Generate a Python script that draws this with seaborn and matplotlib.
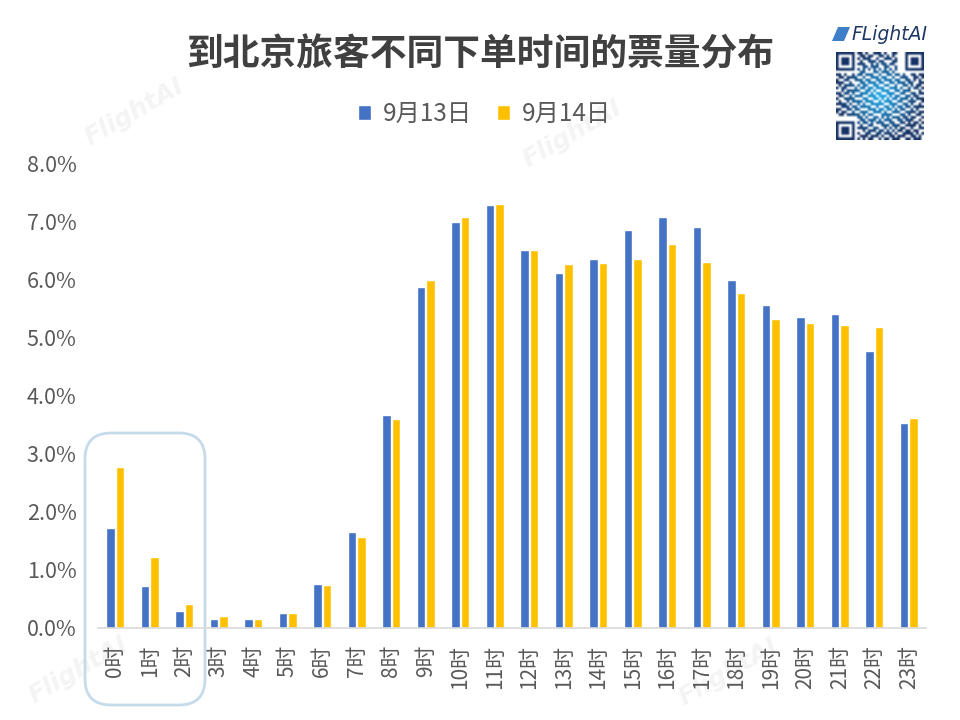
import numpy as np
import pandas as pd
import seaborn as sns
import matplotlib
matplotlib.use("Agg")
import matplotlib.pyplot as plt
from matplotlib.patches import FancyBboxPatch, Polygon

hours = ["0时","1时","2时","3时","4时","5时","6时","7时","8时","9时","10时","11时","12时","13时","14时","15时","16时","17时","18时","19时","20时","21时","22时","23时"]
sep13 = [1.72,0.73,0.29,0.16,0.16,0.26,0.76,1.65,3.66,5.87,6.99,7.28,6.50,6.11,6.35,6.85,7.07,6.90,5.99,5.56,5.35,5.40,4.77,3.52]
sep14 = [2.77,1.22,0.42,0.21,0.15,0.26,0.74,1.57,3.60,5.98,7.07,7.30,6.50,6.27,6.28,6.34,6.61,6.30,5.77,5.32,5.25,5.22,5.18,3.62]
series_names = ["9月13日","9月14日"]
title = "到北京旅客不同下单时间的票量分布"
colors = ["#4472C4","#FFC000"]
qr_rows = [
"000000001101001110100110000000000",
"000000000110110011010100000000000",
"000000001011100100111010000000000",
"000000000100111011000110000000000",
"000000001110010101101100000000000",
"000000000011011100110010000000000",
"000000001010101010101010000000000",
"000000000110001101110100000000000",
"110100101101110010011011010011011",
"011011110010011101100100111001101",
"100110011101100110111011001101010",
"111001000110111011001101110110011",
"010111101011001100110010011010110",
"101100010110110111001110100101101",
"001011111001101001110011011100010",
"110110100111010110011100110011011",
"011001011100111011101011001101100",
"100111100011001101010110111010111",
"010010111101110010111001100111001",
"111101001010011111001110011010010",
"001110110111100100110101101101111",
"110011011000111011011010110010100",
"101100100111001110100111001111011",
"011011111010110001111000110100110",
"000000001101001101010111011011001",
"000000000110111010111001101110010",
"000000001011010111001100110101101",
"000000000100110001110111001111010",
"000000001111001100101010110010011",
"000000000010111011010101101101100",
"000000001001100110111010011110101",
"000000000111011101001101110011010",
"000000001010110010110111001101110",
]

FONT = ["Noto Sans CJK SC", "DejaVu Sans"]
sns.set_theme(style="white")
plt.rcParams["font.family"] = FONT
plt.rcParams["axes.unicode_minus"] = False

df = pd.DataFrame({"hour": hours * 2,
                   "share": sep13 + sep14,
                   "day": [series_names[0]] * 24 + [series_names[1]] * 24})

W, H = 960, 720
fig = plt.figure(figsize=(9.6, 7.2), dpi=100, facecolor="white")
ax = fig.add_axes([98.0 / W, 1 - 628 / H, (926 - 98.0) / W, (628 - 163) / H], zorder=2)
ax.set_facecolor("none")

# faint watermarks
for x, y in [(134, 112), (572, 134), (78, 670), (728, 672)]:
    fig.text(x / W, 1 - y / H, "FlightAI", fontsize=18, fontweight="bold", style="italic",
             color="#f4f4f4", rotation=30, ha="center", va="center", family="DejaVu Sans", zorder=0)

sns.barplot(data=df, x="hour", y="share", hue="day", order=hours, hue_order=series_names,
            palette=colors, width=0.56, gap=0.12, saturation=1, ax=ax, legend=True)

ax.set_xlim(-0.5, 23.5)
ax.set_ylim(0, 8)
ax.set_xlabel("")
ax.set_ylabel("")
ax.set_yticks(np.arange(0, 9))
ax.set_yticklabels([f"{v:.1f}%" for v in range(9)], fontsize=15.5, color="#595959")
ax.tick_params(axis="y", length=0, pad=15.5)
ax.tick_params(axis="x", length=0, pad=12, labelsize=15, labelcolor="#595959", rotation=90)
for s in ["top", "right", "left"]:
    ax.spines[s].set_visible(False)
ax.spines["bottom"].set_color("#d9d9d9")
ax.spines["bottom"].set_linewidth(1.2)

ax.legend(loc="center", bbox_to_anchor=(0.5 * (361 + 606) / W + 1 / W, 1 - 114 / H),
          bbox_transform=fig.transFigure, ncol=2, frameon=False, fontsize=17.5,
          labelcolor="#595959", handlelength=0.55, handleheight=0.6, handletextpad=0.5,
          columnspacing=1.0, borderpad=0, borderaxespad=0)

fig.text(480 / W, 1 - 55 / H, title, fontsize=26.5, fontweight="bold", color="#404040",
         ha="center", va="center")

# highlight frame around the early hours
fig.add_artist(FancyBboxPatch((99 / W, 1 - 691 / H), 92 / W, 244 / H,
                              boxstyle=f"round,pad={14/W},rounding_size={26/W}",
                              mutation_aspect=W / H, transform=fig.transFigure,
                              fill=False, edgecolor="#c6dbea", linewidth=2.0))

# brand logo
fig.add_artist(Polygon([(838 / W, 1 - 27 / H), (850 / W, 1 - 27 / H), (844 / W, 1 - 41 / H), (832 / W, 1 - 41 / H)],
                       closed=True, transform=fig.transFigure, facecolor="#3f7fc8", edgecolor="none"))
fig.text(852 / W, 1 - 34 / H, "FLightAI", fontsize=13.5, style="italic", color="#1f3864",
         ha="left", va="center", family="DejaVu Sans")

# QR-style brand mark
qr = np.array([[int(c) for c in r] for r in qr_rows], dtype=float)
n = qr.shape[0]
finder = np.ones((7, 7))
finder[1:6, 1:6] = 0
finder[2:5, 2:5] = 1
qr[:7, :7] = finder
qr[:7, -7:] = finder
qr[-7:, :7] = finder
yy, xx = np.mgrid[0:n, 0:n]
t = np.clip(1 - np.hypot(xx - (n - 1) / 2, yy - (n - 1) / 2) / (n * 0.48), 0, 1)[..., None]
dark = np.array([0.09, 0.20, 0.40])
bright = np.array([0.10, 0.66, 0.92])
rgb = dark * (1 - t) + bright * t
img = np.where(qr[..., None] > 0, rgb, 1.0)
qax = fig.add_axes([836 / W, 1 - 140 / H, 88 / W, 88 / H])
qax.imshow(img, interpolation="bilinear", aspect="auto")
qax.axis("off")

fig.savefig("out.png", dpi=100)
